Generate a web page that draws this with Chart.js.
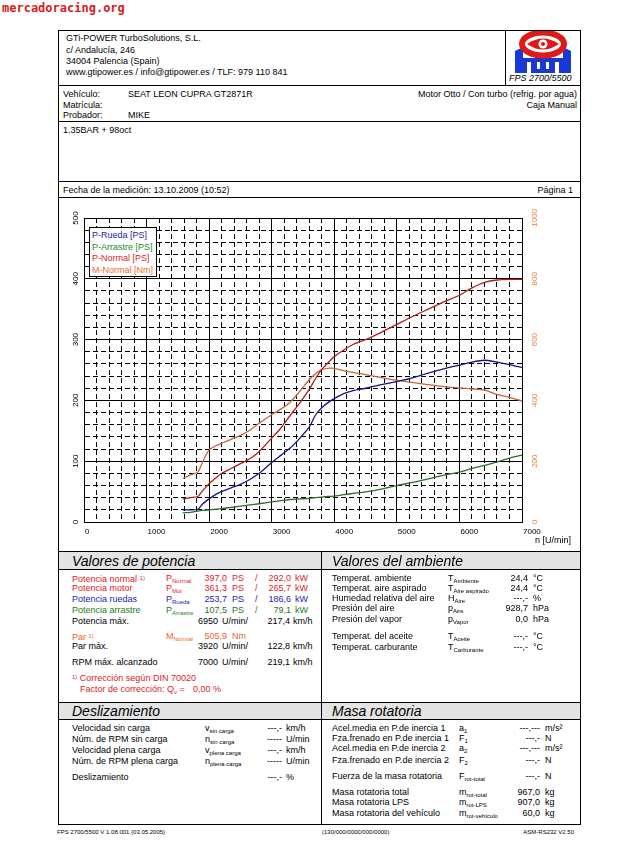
<!DOCTYPE html>
<html>
<head>
<meta charset="utf-8">
<script src="https://cdn.jsdelivr.net/npm/chart.js@4.4.0/dist/chart.umd.min.js"></script>
<style>
  body { margin: 0; background: #fff; }
  #page { position: relative; width: 637px; height: 842px; overflow: hidden; font-family: "Liberation Sans", Arial, sans-serif; color: #000; }
  .t { position: absolute; white-space: nowrap; font-size: 9px; line-height: 9px; }
  .r { transform: translateX(-100%); }
  .ln { position: absolute; background: #000; }
  .band { position: absolute; background: #e4e4e4; }
  sub { font-size: 6px; line-height: 0; vertical-align: -2px; }
  small { font-size: 6px; vertical-align: 2px; }
  #wm { position: absolute; left: 2px; top: 1px; font: bold 12px "DejaVu Sans Mono", monospace; color: #d42020; }
  #chartBox { position: absolute; left: 59px; top: 198px; width: 521px; height: 350px; }
  #legend { position: absolute; left: 89px; top: 227px; width: 68px; height: 50px; background: #fff; border: 1px solid #000; box-sizing: border-box; }
</style>
</head>
<body>
<div id="page">
  <div id="wm">mercadoracing.org</div>

  <svg style="position:absolute;left:513px;top:31px" width="60" height="42" viewBox="0 0 60 42">
    <polygon points="2,42 2,20 10,16 10,27 22,27 22,23 38,23 38,27 50,27 50,16 58,20 58,42" fill="#1838d8"/>
    <rect x="14" y="31" width="4" height="11" fill="#fff"/>
    <rect x="24" y="31" width="3" height="7" fill="#fff"/>
    <rect x="33" y="31" width="3" height="7" fill="#fff"/>
    <rect x="42" y="31" width="4" height="11" fill="#fff"/>
    <ellipse cx="30" cy="13" rx="21" ry="11.5" fill="#fff" stroke="#e01818" stroke-width="6"/>
    <path d="M14,13 Q30,2 46,13 Q30,24 14,13 Z" fill="#e01818"/>
    <circle cx="30" cy="13" r="4.5" fill="#fff"/>
    <circle cx="30" cy="13" r="2" fill="#e01818"/>
  </svg>

  <div id="chartBox"><canvas id="dyno"></canvas></div>
  <div id="legend"></div>
</div>

<script>
// engine speed [U/min]
const rpm = [1580, 1700, 1820, 1900, 2000, 2100, 2200, 2350, 2500, 2650, 2800, 3000,
             3150, 3300, 3450, 3600, 3700, 3800, 3920, 4000, 4150, 4300, 4500, 4750,
             5000, 5250, 5500, 5750, 6000, 6200, 6400, 6600, 6800, 7000];

// P-Rueda [PS]
const pRueda = [20, 20, 21, 30, 38, 45, 50, 56, 62, 70, 80, 98,
                110, 122, 138, 156, 176, 188, 198, 203, 211, 216, 220, 226,
                231, 237, 245, 252, 258, 263, 266, 263, 259, 254];

// P-Arrastre [PS]
const pArrastre = [15, 16, 18, 19, 20, 21, 22, 24, 26, 28, 30, 33,
                   35, 37, 38, 39, 40, 41, 42, 42.5, 45, 47, 49.5, 54,
                   60, 65, 71, 77, 82, 88, 93, 99, 105, 110];

// P-Normal [PS]
const pNormal = [38, 40, 42, 52, 63, 72, 80, 88, 96, 104, 116, 138,
                 155, 176, 196, 218, 236, 251, 264, 272, 283, 292, 300, 312,
                 325, 338, 350, 362, 373, 385, 394, 398, 399, 399];

// M-Normal [Nm]
const mNormal = [143, 155, 165, 200, 237, 250, 259, 272, 285, 302, 325, 353,
                 372, 395, 430, 468, 488, 501, 506, 505, 498, 492, 485, 475,
                 466, 459, 452, 445, 441, 438, 434, 420, 410, 398];

const xLabels = [0, 1000, 2000, 3000, 4000, 5000, 6000, 7000];
const psLabels = [0, 100, 200, 300, 400, 500];
const nmLabels = [0, 200, 400, 600, 800, 1000];

const series = [
  { label: "P-Rueda [PS]", values: pRueda, color: "#14148c", text: "#1c1cb0", axis: "y" },
  { label: "P-Arrastre [PS]", values: pArrastre, color: "#2a6e2a", text: "#1e8a1e", axis: "y" },
  { label: "P-Normal [PS]", values: pNormal, color: "#b41c1c", text: "#e01c1c", axis: "y" },
  { label: "M-Normal [Nm]", values: mNormal, color: "#c8643c", text: "#f06a32", axis: "yR" }
];

// --- page text -------------------------------------------------------
const page = document.getElementById("page");
function T(html, x, y, o) {
  o = o || {};
  const s = o.s || 9;
  const d = document.createElement("div");
  d.className = "t" + (o.r ? " r" : "");
  d.innerHTML = html;
  d.style.left = x + "px";
  d.style.top = (y - s / 2) + "px";
  d.style.fontSize = s + "px";
  d.style.lineHeight = s + "px";
  if (o.c) d.style.color = o.c;
  if (o.i) d.style.fontStyle = "italic";
  page.appendChild(d);
}
function L(x, y, w, h, cls) {
  const d = document.createElement("div");
  d.className = cls || "ln";
  d.style.left = x + "px"; d.style.top = y + "px";
  d.style.width = w + "px"; d.style.height = h + "px";
  page.appendChild(d);
}

// frame
L(59, 551, 521, 18, "band");
L(59, 702, 521, 17, "band");
L(58, 30, 523, 1);
L(58, 30, 1, 795);
L(580, 30, 1, 795);
L(505, 30, 1, 55);
[85, 121, 181, 197, 551, 569, 702, 719, 824].forEach(y => L(58, y, 523, 1));
L(321, 551, 1, 273);

// header
T("GTi-POWER TurboSolutions, S.L.", 66, 38);
T("c/ Andalucía, 246", 66, 50);
T("34004 Palencia (Spain)", 66, 61);
T("www.gtipower.es / info@gtipower.es / TLF: 979 110 841", 66, 72);
T("FPS 2700/5500", 509, 78, { i: true, s: 9 });

T("Vehículo:", 63, 94);
T("SEAT LEON CUPRA GT2871R", 128, 94);
T("Matrícula:", 63, 105);
T("Probador:", 63, 115);
T("MIKE", 128, 115);
T("Motor Otto / Con turbo (refrig. por agua)", 577, 94, { r: true });
T("Caja Manual", 577, 105, { r: true });
T("1.35BAR + 98oct", 63, 130);
T("Fecha de la medición: 13.10.2009 (10:52)", 63, 190);
T("Página 1", 573, 190, { r: true });
T("n [U/min]", 535, 540);

// Valores de potencia
const RED = "#e0201e", BLUE = "#1c1cb0", GREEN = "#1e7a1e", ORANGE = "#ec6428";
T("Valores de potencia", 72, 561, { s: 14, i: true });
function powRow(y, c, label, sym, v1, u1, v2, u2) {
  T(label, 72, y, { c: c });
  if (sym) T(sym, 166, y, { c: c });
  T(v1, 227, y, { c: c, r: true });
  T(u1, 232, y, { c: c });
  if (v2) { T("/", 255, y, { c: c }); T(v2, 291, y, { c: c, r: true }); T(u2, 295, y, { c: c }); }
}
powRow(578, RED, "Potencia normal <small>1)</small>", "P<sub>Normal</sub>", "397,0", "PS", "292,0", "kW");
powRow(588, RED, "Potencia motor", "P<sub>Mot</sub>", "361,3", "PS", "265,7", "kW");
powRow(599, BLUE, "Potencia ruedas", "P<sub>Rueda</sub>", "253,7", "PS", "186,6", "kW");
powRow(610, GREEN, "Potencia arrastre", "P<sub>Arrastre</sub>", "107,5", "PS", "79,1", "kW");
function rpmRow(y, label, n, v) {
  T(label, 72, y);
  T(n, 218, y, { r: true });
  T("U/min/", 222, y);
  T(v, 290, y, { r: true });
  T("km/h", 293, y);
}
rpmRow(621, "Potencia máx.", "6950", "217,4");
powRow(636, ORANGE, "Par <small>1)</small>", "M<sub>Normal</sub>", "505,9", "Nm");
rpmRow(646, "Par máx.", "3920", "122,8");
rpmRow(662, "RPM máx. alcanzado", "7000", "219,1");
T("<small>1)</small> Corrección según DIN 70020", 72, 677, { c: RED });
T("Factor de corrección: Q<sub>v</sub> =", 80, 689, { c: RED });
T("0,00 %", 193, 689, { c: RED });

// Valores del ambiente
T("Valores del ambiente", 332, 561, { s: 14, i: true });
const amb = [
  [578, "Temperat. ambiente", "T<sub>Ambiente</sub>", "24,4", "°C"],
  [588, "Temperat. aire aspirado", "T<sub>Aire aspirado</sub>", "24,4", "°C"],
  [598, "Humedad relativa del aire", "H<sub>Aire</sub>", "---,-", "%"],
  [608, "Presión del aire", "p<sub>Aire</sub>", "928,7", "hPa"],
  [619, "Presión del vapor", "p<sub>Vapor</sub>", "0,0", "hPa"],
  [636, "Temperat. del aceite", "T<sub>Aceite</sub>", "---,-", "°C"],
  [647, "Temperat. carburante", "T<sub>Carburante</sub>", "---,-", "°C"]
];
amb.forEach(r => { T(r[1], 332, r[0]); T(r[2], 448, r[0]); T(r[3], 528, r[0], { r: true }); T(r[4], 533, r[0]); });

// Deslizamiento
T("Deslizamiento", 72, 711, { s: 14, i: true });
const slip = [
  [728, "Velocidad sin carga", "v<sub>sin carga</sub>", "---,-", "km/h"],
  [739, "Núm. de RPM sin carga", "n<sub>sin carga</sub>", "-----", "U/min"],
  [750, "Velocidad plena carga", "v<sub>plena carga</sub>", "---,-", "km/h"],
  [761, "Núm. de RPM plena carga", "n<sub>plena carga</sub>", "-----", "U/min"],
  [777, "Deslizamiento", "", "---,-", "%"]
];
slip.forEach(r => { T(r[1], 72, r[0]); if (r[2]) T(r[2], 205, r[0]); T(r[3], 282, r[0], { r: true }); T(r[4], 286, r[0]); });

// Masa rotatoria
T("Masa rotatoria", 332, 711, { s: 14, i: true });
const mass = [
  [728, "Acel.media en P.de inercia 1", "a<sub>1</sub>", "---,---", "m/s²"],
  [738, "Fza.frenado en P.de inercia 1", "F<sub>1</sub>", "---,-", "N"],
  [748, "Acel.media en P.de inercia 2", "a<sub>2</sub>", "---,---", "m/s²"],
  [760, "Fza.frenado en P.de inercia 2", "F<sub>2</sub>", "---,-", "N"],
  [776, "Fuerza de la masa rotatoria", "F<sub>rot-total</sub>", "---,-", "N"],
  [792, "Masa rotatoria total", "m<sub>rot-total</sub>", "967,0", "kg"],
  [802, "Masa rotatoria LPS", "m<sub>rot-LPS</sub>", "907,0", "kg"],
  [813, "Masa rotatoria del vehículo", "m<sub>rot-vehículo</sub>", "60,0", "kg"]
];
mass.forEach(r => { T(r[1], 332, r[0]); T(r[2], 459, r[0]); T(r[3], 540, r[0], { r: true }); T(r[4], 545, r[0]); });

// footer
T("FPS 2700/5500 V 1.08.001 (03.05.2005)", 57, 832, { s: 6 });
T("(130/000/0000/000/0000)", 322, 832, { s: 6 });
T("ASM-RS232 V2.50", 574, 832, { s: 6, r: true });

// legend
const legend = document.getElementById("legend");
series.forEach((s, i) => {
  const d = document.createElement("div");
  d.className = "t";
  d.textContent = s.label;
  d.style.left = "2px";
  d.style.top = (3 + i * 11.5) + "px";
  d.style.color = s.text;
  legend.appendChild(d);
});

// --- chart -------------------------------------------------------------
const axisText = {
  id: "axisText",
  afterDraw(chart) {
    const { ctx, scales } = chart;
    ctx.save();
    ctx.font = '8px "Liberation Sans", Arial, sans-serif';
    ctx.textBaseline = "middle";
    ctx.fillStyle = "#000";
    ctx.textAlign = "left";
    xLabels.forEach(v => ctx.fillText(String(v), scales.x.getPixelForValue(v) + 1, 334));
    ctx.textAlign = "center";
    psLabels.forEach(v => {
      ctx.save();
      ctx.translate(17, scales.y.getPixelForValue(v));
      ctx.rotate(-Math.PI / 2);
      ctx.fillText(String(v), 0, 0);
      ctx.restore();
    });
    ctx.fillStyle = "#f07a40";
    nmLabels.forEach(v => {
      ctx.save();
      ctx.translate(476, scales.yR.getPixelForValue(v));
      ctx.rotate(-Math.PI / 2);
      ctx.fillText(String(v), 0, 0);
      ctx.restore();
    });
    ctx.restore();
  }
};

function gridDash(step) {
  return c => (c.tick && c.tick.value % step !== 0) ? [5, 3] : [];
}

new Chart("dyno", {
  type: "line",
  data: {
    datasets: series.map(s => ({
      label: s.label,
      data: rpm.map((r, i) => ({ x: r, y: s.values[i] })),
      yAxisID: s.axis,
      borderColor: s.color,
      borderWidth: 1.3,
      pointRadius: 0,
      tension: 0.25,
      fill: false
    }))
  },
  options: {
    responsive: true,
    maintainAspectRatio: false,
    animation: false,
    layout: { padding: { top: 20, left: 0, right: 0, bottom: 0 } },
    plugins: { legend: { display: false }, tooltip: { enabled: false } },
    scales: {
      x: {
        type: "linear", min: 0, max: 7000,
        ticks: { stepSize: 200, display: false, autoSkip: false, maxTicksLimit: 100 },
        grid: { color: "#000", lineWidth: 1, drawTicks: false },
        border: { color: "#000", dash: gridDash(1000) },
        afterFit: s => { s.height = 26; }
      },
      y: {
        position: "left", min: 0, max: 500,
        ticks: { stepSize: 20, display: false, autoSkip: false, maxTicksLimit: 100 },
        grid: { color: "#000", lineWidth: 1, drawTicks: false },
        border: { color: "#000", dash: gridDash(100) },
        afterFit: s => { s.width = 25; }
      },
      yR: {
        position: "right", min: 0, max: 1000,
        ticks: { stepSize: 200, display: false },
        grid: { display: false, drawTicks: false },
        border: { color: "#000" },
        afterFit: s => { s.width = 58; }
      }
    }
  },
  plugins: [axisText]
});
</script>
</body>
</html>
